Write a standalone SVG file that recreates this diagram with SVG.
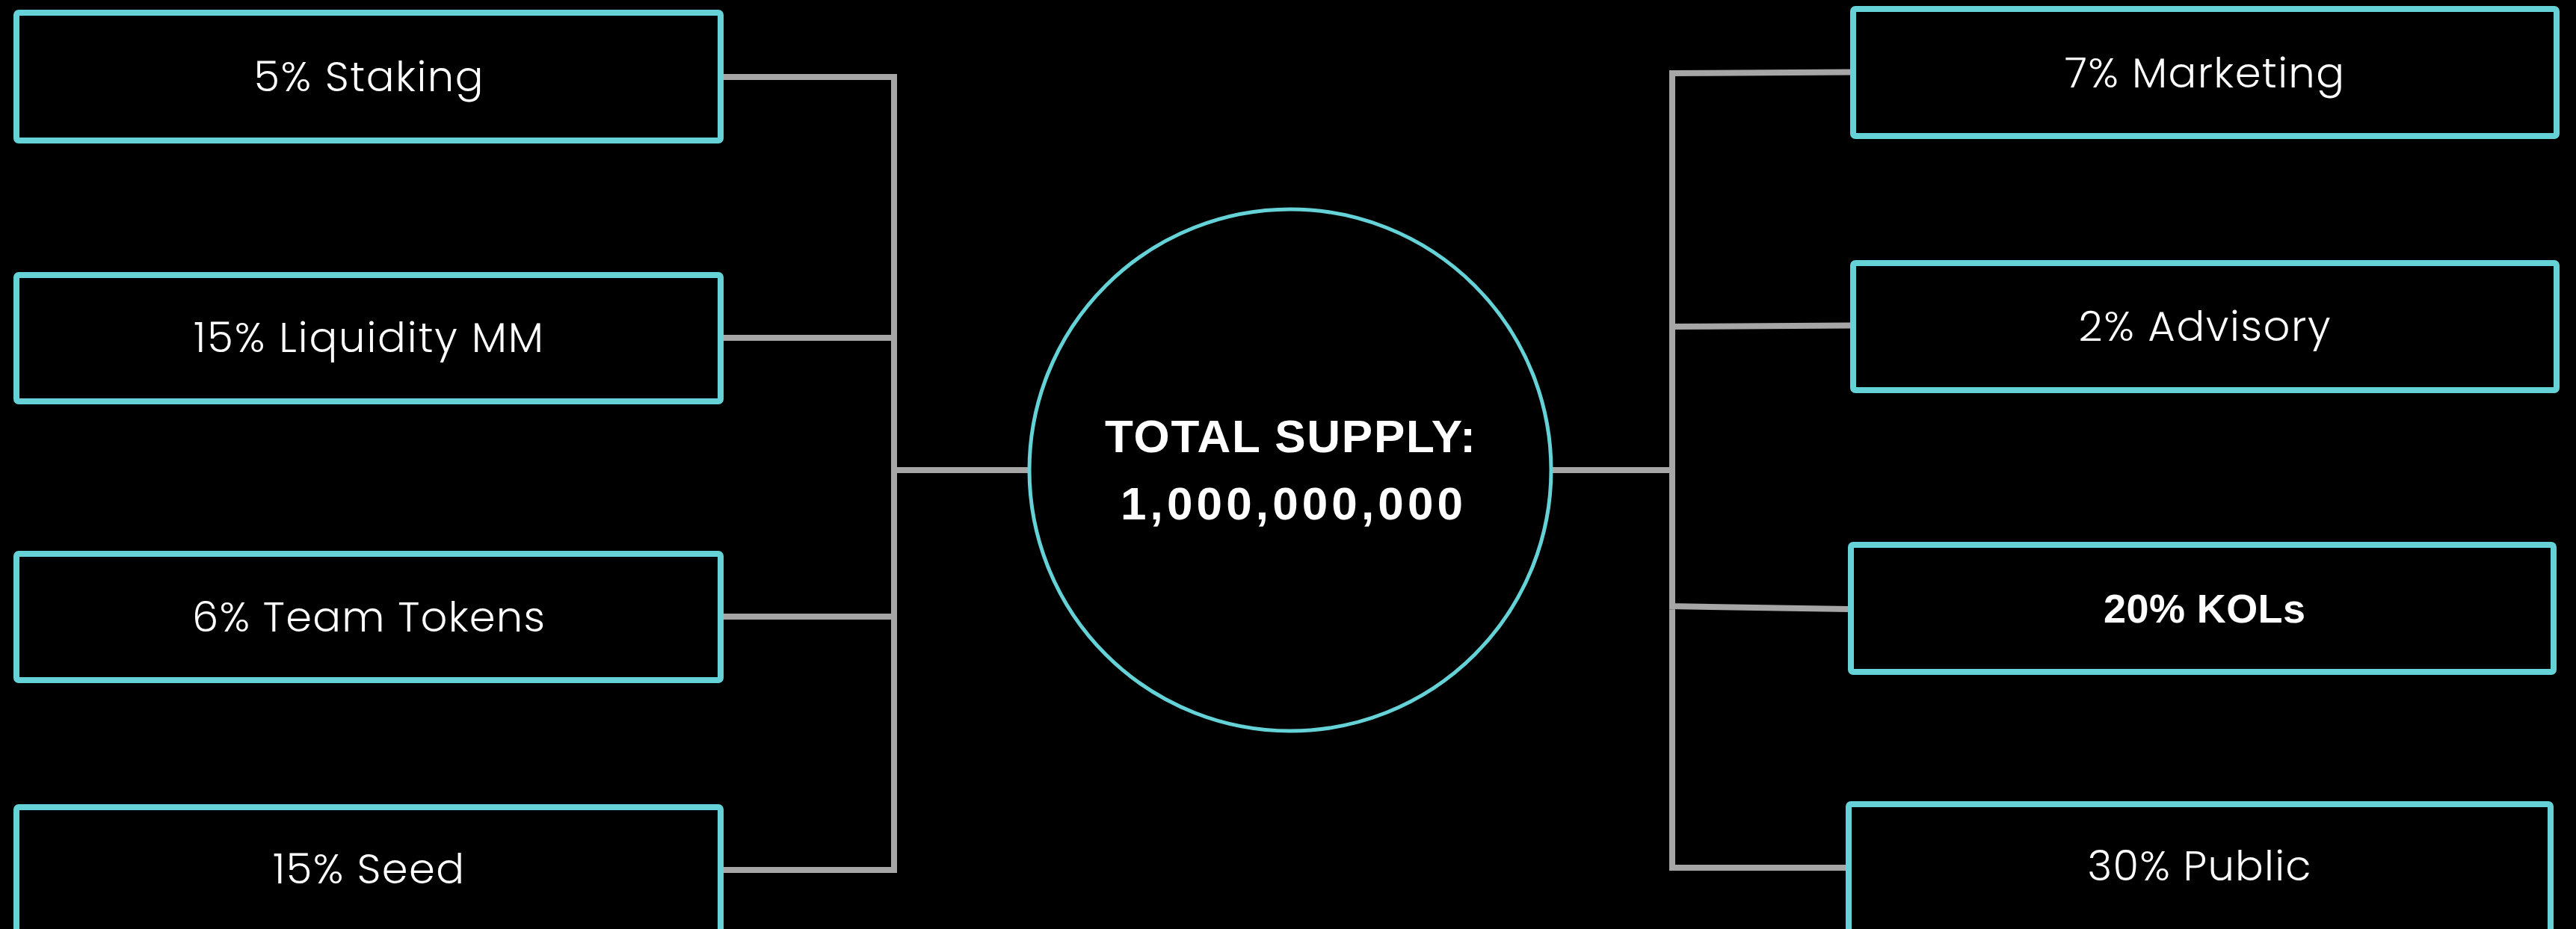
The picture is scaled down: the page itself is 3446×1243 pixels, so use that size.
<svg xmlns="http://www.w3.org/2000/svg" width="3446" height="1243" viewBox="0 0 3446 1243">
<style>
.box{fill:#000;stroke:#64d2d7;stroke-width:8}
.lbl{fill:#fff;font-family:"Poppins","Open Sans","Liberation Sans",sans-serif;font-weight:300;font-size:56px;text-anchor:middle}
.bold{font-family:"Liberation Sans",Arial,sans-serif;font-weight:700;font-size:54px}
.ttl{fill:#fff;font-family:"Liberation Sans",Arial,sans-serif;font-weight:700;font-size:62px;text-anchor:middle}
.con{fill:none;stroke:#a6a6a6;stroke-width:8}
</style>
<rect width="3446" height="1243" fill="#000"/>
<g id="connectors">
<path class="con" d="M968 103H1200M968 452H1200M968 825H1200M968 1164H1200M1196 99V1168M1196 629H1377"/>
<path class="con" d="M2233 98L2475 96.5M2233 437L2475 435.5M2233 811L2472 815M2233 1161H2469M2237 94V1165M2077 629H2237"/>
</g>
<g id="staking"><rect class="box" x="22" y="17" width="942" height="171" rx="3"/><text class="lbl" x="493" y="122" textLength="307" lengthAdjust="spacing">5% Staking</text></g>
<g id="liquidity"><rect class="box" x="22" y="368" width="942" height="169" rx="3"/><text class="lbl" x="493" y="471" textLength="468" lengthAdjust="spacing">15% Liquidity MM</text></g>
<g id="team"><rect class="box" x="22" y="741" width="942" height="169" rx="3"/><text class="lbl" x="493" y="845" textLength="472" lengthAdjust="spacing">6% Team Tokens</text></g>
<g id="seed"><rect class="box" x="22" y="1080" width="942" height="171" rx="3"/><text class="lbl" x="493" y="1182" textLength="256" lengthAdjust="spacing">15% Seed</text></g>
<g id="total"><circle cx="1726" cy="629" r="349" fill="#000" stroke="#64d2d7" stroke-width="5"/><text class="ttl" x="1726" y="605" textLength="496" lengthAdjust="spacing">TOTAL SUPPLY:</text><text class="ttl" x="1728" y="695" textLength="458" lengthAdjust="spacing">1,000,000,000</text></g>
<g id="marketing"><rect class="box" x="2479" y="12" width="941" height="170" rx="3"/><text class="lbl" x="2949" y="117" textLength="374" lengthAdjust="spacing">7% Marketing</text></g>
<g id="advisory"><rect class="box" x="2479" y="352" width="941" height="170" rx="3"/><text class="lbl" x="2949" y="456" textLength="337" lengthAdjust="spacing">2% Advisory</text></g>
<g id="kols"><rect class="box" x="2476" y="729" width="940" height="170" rx="3"/><text class="lbl bold" x="2949" y="833" textLength="270" lengthAdjust="spacing">20% KOLs</text></g>
<g id="public"><rect class="box" x="2473" y="1076" width="939" height="171" rx="3"/><text class="lbl" x="2942" y="1178" textLength="299" lengthAdjust="spacing">30% Public</text></g>
</svg>
